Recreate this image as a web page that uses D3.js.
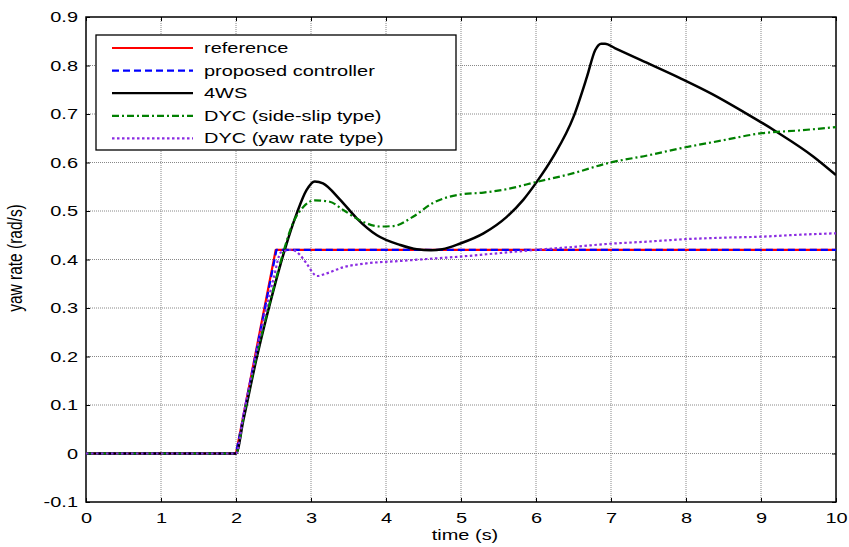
<!DOCTYPE html>
<html>
<head>
<meta charset="utf-8">
<script src="https://cdn.jsdelivr.net/npm/d3@7"></script>
<style>
  html, body { margin: 0; padding: 0; background: #fff; }
  svg { display: block; font-family: "Liberation Sans", Arial, sans-serif; }
</style>
</head>
<body>
<svg id="chart" width="849" height="547"></svg>
<script>
// ---- data ----
const xTicks = [0,1,2,3,4,5,6,7,8,9,10];
const yTicks = [-0.1,0,0.1,0.2,0.3,0.4,0.5,0.6,0.7,0.8,0.9];

const refT = [0, 2.0, 2.53, 10];
const refY = [0, 0, 0.42, 0.42];

const propT = [0, 2.0, 2.54, 10];
const propY = [0, 0, 0.42, 0.42];

const ws4T = [0,2.0,2.1,2.28,2.5,2.65,2.81,2.94,3.05,3.16,3.39,3.61,3.88,4.19,4.41,4.6,4.75,4.99,5.3,5.61,5.83,6.01,6.23,6.5,6.68,6.79,6.87,6.92,7.05,7.4,7.92,8.35,8.76,9.2,9.7,10];
const ws4Y = [0,0,0.07,0.2,0.337,0.42,0.495,0.543,0.561,0.557,0.523,0.485,0.45,0.43,0.421,0.419,0.421,0.433,0.454,0.488,0.523,0.56,0.612,0.694,0.777,0.832,0.845,0.845,0.836,0.811,0.774,0.741,0.705,0.664,0.612,0.574];

const dycSsT = [0,2.0,2.1,2.28,2.5,2.65,2.74,2.9,3.05,3.25,3.43,3.65,3.92,4.1,4.36,4.62,4.99,5.3,5.61,6.01,6.5,6.94,7.5,7.92,8.5,8.99,9.5,10];
const dycSsY = [0,0,0.075,0.205,0.34,0.425,0.468,0.509,0.522,0.519,0.502,0.481,0.468,0.469,0.488,0.516,0.534,0.538,0.545,0.56,0.578,0.598,0.615,0.629,0.646,0.66,0.666,0.673];

const dycYrT = [0,2.0,2.1,2.28,2.5,2.6,2.75,2.85,2.94,3.08,3.2,3.43,3.74,4.19,4.63,4.99,5.5,6.01,6.5,6.94,7.5,8.0,8.5,8.99,9.5,10];
const dycYrY = [0,0,0.08,0.215,0.36,0.415,0.42,0.41,0.392,0.366,0.371,0.384,0.392,0.397,0.402,0.406,0.413,0.42,0.426,0.432,0.437,0.442,0.445,0.447,0.451,0.454];

const seriesNames = ["reference","proposed controller","4WS","DYC (side-slip type)","DYC (yaw rate type)"];

// ---- layout ----
const L = 86, R = 836, T = 17, B = 502;
const STRETCH = 1.33;
const svg = d3.select("#chart");
const x = d3.scaleLinear().domain([0,10]).range([L,R]);
const y = d3.scaleLinear().domain([-0.1,0.9]).range([B,T]);

function stretchText(sel){
  sel.each(function(){
    const w = this.getComputedTextLength();
    if (w > 0) {
      d3.select(this).attr("textLength", w*STRETCH).attr("lengthAdjust","spacingAndGlyphs");
    }
  });
}

// grid
const g = svg.append("g");
g.selectAll(".vg").data(xTicks.slice(1,-1)).join("line")
  .attr("x1", d=>x(d)).attr("x2", d=>x(d)).attr("y1", T).attr("y2", B)
  .attr("stroke", "#888").attr("stroke-width", 1).attr("stroke-dasharray", "1,1");
g.selectAll(".hg").data(yTicks.slice(1,-1)).join("line")
  .attr("y1", d=>y(d)).attr("y2", d=>y(d)).attr("x1", L).attr("x2", R)
  .attr("stroke", "#888").attr("stroke-width", 1).attr("stroke-dasharray", "1,1");

// axes
const axB = d3.axisBottom(x).tickValues(xTicks).tickSize(-4).tickPadding(10).tickFormat(d=>String(d));
const axT = d3.axisTop(x).tickValues(xTicks).tickSize(-4).tickFormat("");
const fmtY = d => String(+d.toFixed(1));
const axL = d3.axisLeft(y).tickValues(yTicks).tickSize(-4).tickPadding(8).tickFormat(fmtY);
const axR = d3.axisRight(y).tickValues(yTicks).tickSize(-4).tickFormat("");

function styleAxis(sel){
  sel.select(".domain").remove();
  sel.selectAll("line").attr("stroke","#000").attr("stroke-width",1);
  sel.selectAll("text").attr("fill","#000").style("font-size","15px")
     .style("font-family","'Liberation Sans', Arial, sans-serif");
}
svg.append("g").attr("transform",`translate(0,${B})`).call(axB).call(styleAxis)
  .selectAll("text").call(stretchText);
svg.append("g").attr("transform",`translate(0,${T})`).call(axT).call(styleAxis);
svg.append("g").attr("transform",`translate(${L},0)`).call(axL).call(styleAxis)
  .selectAll("text").call(stretchText);
svg.append("g").attr("transform",`translate(${R},0)`).call(axR).call(styleAxis);

svg.append("rect").attr("x",L).attr("y",T).attr("width",R-L).attr("height",B-T)
  .attr("fill","none").attr("stroke","#000").attr("stroke-width",1.5);

// labels
svg.append("text").attr("x",(L+R)/2 + 4).attr("y",540).attr("text-anchor","middle")
  .style("font-size","15px").text("time (s)").call(stretchText);
svg.append("text").attr("transform",`translate(22,${258}) rotate(-90) scale(1,${STRETCH})`)
  .attr("text-anchor","middle").style("font-size","15.5px").text("yaw rate (rad/s)");

// series
const series = [
  {t:refT, v:refY, color:"#ff0000", dash:null},
  {t:propT, v:propY, color:"#0000ff", dash:"7,4"},
  {t:ws4T, v:ws4Y, color:"#000000", dash:null},
  {t:dycSsT, v:dycSsY, color:"#008000", dash:"7,3,2,3"},
  {t:dycYrT, v:dycYrY, color:"#8a2be2", dash:"2.5,2.5"}
];
const line = d3.line().x(d=>x(d[0])).y(d=>y(d[1])).curve(d3.curveMonotoneX);
const lineLin = d3.line().x(d=>x(d[0])).y(d=>y(d[1]));
svg.append("clipPath").attr("id","clp").append("rect")
  .attr("x",L).attr("y",T).attr("width",R-L).attr("height",B-T);
const pg = svg.append("g").attr("clip-path","url(#clp)");
series.forEach((s,i)=>{
  const pts = s.t.map((t,k)=>[t,s.v[k]]);
  pg.append("path").attr("d", i<2 ? lineLin(pts) : line(pts))
    .attr("fill","none").attr("stroke",s.color).attr("stroke-width", i===2 ? 2.5 : 2.2)
    .attr("stroke-dasharray",s.dash).attr("stroke-linejoin","round");
});

// legend
const lg = svg.append("g");
lg.append("rect").attr("x",96).attr("y",35).attr("width",360).attr("height",115)
  .attr("fill","#fff").attr("stroke","#000").attr("stroke-width",1.3);
series.forEach((s,i)=>{
  const yy = 48 + i*22.6;
  lg.append("line").attr("x1",112).attr("x2",193).attr("y1",yy).attr("y2",yy)
    .attr("stroke",s.color).attr("stroke-width",2.2).attr("stroke-dasharray",s.dash);
  lg.append("text").attr("x",204).attr("y",yy+5).style("font-size","15px")
    .text(seriesNames[i]).call(stretchText);
});
</script>
</body>
</html>
